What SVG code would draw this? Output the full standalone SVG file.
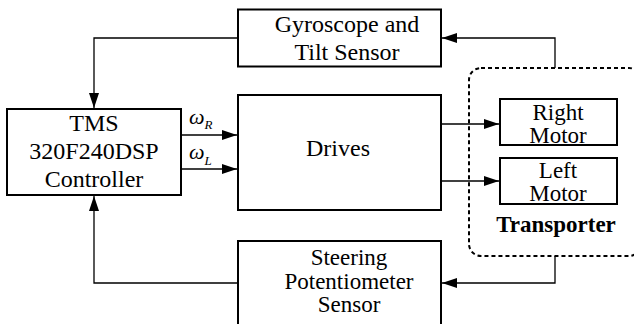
<svg xmlns="http://www.w3.org/2000/svg" width="634" height="324" viewBox="0 0 634 324">
<style>
.box{fill:#fff;stroke:#000;stroke-width:2}
.conn{fill:none;stroke:#000;stroke-width:1.3}
text{font-family:'Liberation Serif','DejaVu Serif',serif}
.t{font-size:24px;text-anchor:middle;fill:#000}
.s{font-size:23px}
.b{font-weight:bold;font-size:23px}
.w{font-style:italic;fill:#000}
</style>
<defs>
<marker id="ah" markerUnits="userSpaceOnUse" markerWidth="15" markerHeight="10" refX="15" refY="5" orient="auto">
<path d="M0,0 L15,5 L0,10 z" fill="#000"/>
</marker>
</defs>
<g id="transporter">
<rect x="469" y="68" width="172" height="188" rx="12" ry="12" fill="none" stroke="#000" stroke-width="2" stroke-dasharray="4,3"/>
<text class="t b" x="556" y="232" font-family="Liberation Serif, serif">Transporter</text>
</g>
<g id="connectors">
<path class="conn" d="M238,38 H94 V108" marker-end="url(#ah)"/>
<path class="conn" d="M238,283 H94 V196" marker-end="url(#ah)"/>
<path class="conn" d="M181,135 H237" marker-end="url(#ah)"/>
<path class="conn" d="M181,169 H237" marker-end="url(#ah)"/>
<path class="conn" d="M441,124 H499" marker-end="url(#ah)"/>
<path class="conn" d="M441,181 H499" marker-end="url(#ah)"/>
<path class="conn" d="M555,68 V38 H442" marker-end="url(#ah)"/>
<path class="conn" d="M555,256 V283 H442" marker-end="url(#ah)"/>
<text class="w" x="189" y="124" font-size="22" font-family="Liberation Serif, serif">ω<tspan font-size="13" dy="5">R</tspan></text>
<text class="w" x="189" y="159" font-size="22" font-family="Liberation Serif, serif">ω<tspan font-size="13" dy="6">L</tspan></text>
</g>
<g id="gyro">
<rect class="box" x="238" y="9.5" width="203" height="57"/>
<text class="t" x="347" y="32" font-family="Liberation Serif, serif">Gyroscope and</text>
<text class="t" x="347" y="60" font-family="Liberation Serif, serif">Tilt Sensor</text>
</g>
<g id="controller">
<rect class="box" x="7" y="109" width="174" height="86"/>
<text class="t" x="94" y="131" font-family="Liberation Serif, serif">TMS</text>
<text class="t" x="94" y="159" font-family="Liberation Serif, serif">320F240DSP</text>
<text class="t" x="94" y="187" font-family="Liberation Serif, serif">Controller</text>
</g>
<g id="drives">
<rect class="box" x="238" y="95" width="203" height="115"/>
<text class="t" x="338" y="156" font-family="Liberation Serif, serif">Drives</text>
</g>
<g id="right-motor">
<rect class="box" x="500" y="99" width="117" height="46"/>
<text class="t s" x="558" y="120" font-family="Liberation Serif, serif">Right</text>
<text class="t s" x="558" y="143" font-family="Liberation Serif, serif">Motor</text>
</g>
<g id="left-motor">
<rect class="box" x="500" y="158" width="117" height="46"/>
<text class="t s" x="558" y="178" font-family="Liberation Serif, serif">Left</text>
<text class="t s" x="558" y="201" font-family="Liberation Serif, serif">Motor</text>
</g>
<g id="steering">
<rect class="box" x="238" y="241" width="203" height="100"/>
<text class="t s" x="349" y="265" font-family="Liberation Serif, serif">Steering</text>
<text class="t s" x="349" y="289" font-family="Liberation Serif, serif">Potentiometer</text>
<text class="t s" x="349" y="312" font-family="Liberation Serif, serif">Sensor</text>
</g>
</svg>
